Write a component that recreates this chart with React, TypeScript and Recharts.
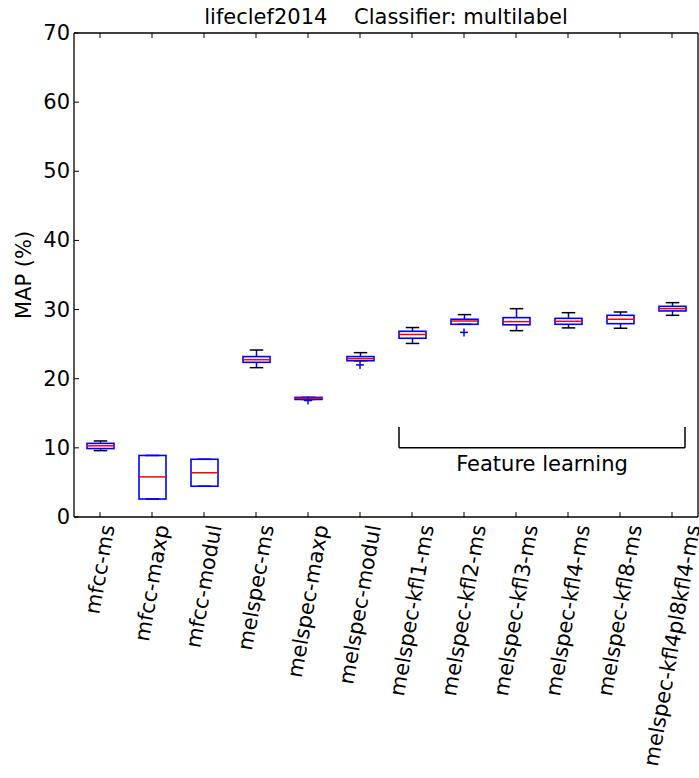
import React from 'react'
import {
  ComposedChart,
  Bar,
  Scatter,
  XAxis,
  YAxis,
  ReferenceLine,
  ReferenceDot,
} from 'recharts'

const names = [
  'mfcc-ms',
  'mfcc-maxp',
  'mfcc-modul',
  'melspec-ms',
  'melspec-maxp',
  'melspec-modul',
  'melspec-kfl1-ms',
  'melspec-kfl2-ms',
  'melspec-kfl3-ms',
  'melspec-kfl4-ms',
  'melspec-kfl8-ms',
  'melspec-kfl4pl8kfl4-ms',
]
const whiskerLow = [9.6, 2.6, 4.45, 21.6, 17.0, 22.6, 25.1, 27.87, 26.95, 27.35, 27.3, 29.17]
const q1 = [9.9, 2.6, 4.45, 22.37, 17.0, 22.6, 25.85, 27.87, 27.8, 27.87, 27.96, 29.8]
const median = [10.3, 5.8, 6.4, 22.75, 17.17, 22.9, 26.4, 28.35, 28.25, 28.3, 28.6, 30.13]
const q3 = [10.65, 8.9, 8.35, 23.2, 17.3, 23.2, 26.86, 28.6, 28.83, 28.73, 29.17, 30.47]
const whiskerHigh = [11.0, 8.9, 8.35, 24.15, 17.3, 23.77, 27.4, 29.27, 30.13, 29.55, 29.65, 31.0]
const outliers: (number | null)[] = [null, null, null, null, 16.85, 22.0, null, 26.7, null, null, null, null]
const yTicks = [0, 10, 20, 30, 40, 50, 60, 70]

const data = names.map((name, i) => ({
  name,
  pos: i + 1,
  range: [whiskerLow[i], whiskerHigh[i]],
  q1: q1[i],
  median: median[i],
  q3: q3[i],
  lo: whiskerLow[i],
  hi: whiskerHigh[i],
  outlier: outliers[i],
}))

const FONT = '"DejaVu Sans", sans-serif'
const FS = 21
const BLUE = '#0000ff'
const RED = '#ff0000'

let ctx: CanvasRenderingContext2D | null = null
function textWidth(s: string) {
  if (!ctx) {
    ctx = document.createElement('canvas').getContext('2d')
  }
  if (!ctx) return s.length * FS * 0.6
  ctx.font = `${FS}px "DejaVu Sans"`
  return ctx.measureText(s).width
}

function BoxShape(props: any) {
  const { x, y, width, height, payload } = props
  const { lo, hi, q1: b1, q3: b3, median: med } = payload
  const k = height / (hi - lo)
  const py = (v: number) => y + (hi - v) * k
  const cx = x + width / 2
  const cap = width / 2
  return (
    <g>
      <line x1={cx} x2={cx} y1={py(hi)} y2={py(b3)} stroke={BLUE} strokeWidth={1.5} />
      <line x1={cx} x2={cx} y1={py(b1)} y2={py(lo)} stroke={BLUE} strokeWidth={1.5} />
      <line x1={cx - cap / 2} x2={cx + cap / 2} y1={py(hi)} y2={py(hi)} stroke="#000" strokeWidth={1.5} />
      <line x1={cx - cap / 2} x2={cx + cap / 2} y1={py(lo)} y2={py(lo)} stroke="#000" strokeWidth={1.5} />
      <rect x={x} y={py(b3)} width={width} height={py(b1) - py(b3)} fill="none" stroke={BLUE} strokeWidth={1.6} />
      <line x1={x} x2={x + width} y1={py(med)} y2={py(med)} stroke={RED} strokeWidth={1.5} />
    </g>
  )
}

function PlusShape(props: any) {
  const { cx, cy, payload } = props
  if (payload == null || payload.outlier == null || !isFinite(cy)) return <g />
  return (
    <g>
      <line x1={cx - 4} x2={cx + 4} y1={cy} y2={cy} stroke={BLUE} strokeWidth={1.5} />
      <line x1={cx} x2={cx} y1={cy - 4} y2={cy + 4} stroke={BLUE} strokeWidth={1.5} />
    </g>
  )
}

function BottomTick(props: any) {
  const { x, y, payload } = props
  const label = String(payload.value)
  const L = textWidth(label)
  const a = (80 * Math.PI) / 180
  const h = FS * 1.16
  const cy = y + 6 + (L / 2) * Math.sin(a) + (h / 2) * Math.cos(a)
  return (
    <g>
      <line x1={x} x2={x} y1={y} y2={y - 5} stroke="#000" strokeWidth={1} />
      <text
        x={0}
        y={0}
        transform={`translate(${x},${cy}) rotate(-80)`}
        textAnchor="middle"
        dominantBaseline="central"
        fontFamily={FONT}
        fontSize={FS}
        fill="#000"
      >
        {label}
      </text>
    </g>
  )
}

function TopTick(props: any) {
  const { x, y } = props
  return <line x1={x} x2={x} y1={y} y2={y + 5} stroke="#000" strokeWidth={1} />
}

function LeftTick(props: any) {
  const { x, y, payload } = props
  return (
    <g>
      <line x1={x} x2={x + 5} y1={y} y2={y} stroke="#000" strokeWidth={1} />
      <text x={x - 4} y={y} textAnchor="end" dominantBaseline="central" fontFamily={FONT} fontSize={FS} fill="#000">
        {payload.value}
      </text>
    </g>
  )
}

function RightTick(props: any) {
  const { x, y } = props
  return <line x1={x} x2={x - 5} y1={y} y2={y} stroke="#000" strokeWidth={1} />
}

function FeatureLabel(props: any) {
  const { cx, cy } = props
  return (
    <text x={cx} y={cy} textAnchor="middle" dominantBaseline="central" fontFamily={FONT} fontSize={FS} fill="#000">
      Feature learning
    </text>
  )
}

export default function App() {
  const axisLine = { stroke: '#000', strokeWidth: 1.3 }
  return (
    <div style={{ position: 'absolute', left: 0, top: 0, width: 699, height: 778, background: '#fff' }}>
      <ComposedChart width={699} height={778} data={data} margin={{ top: 32, right: 0, left: 0, bottom: 0 }}>
        <XAxis
          dataKey="name"
          interval={0}
          height={261}
          axisLine={axisLine}
          tickLine={false}
          tickSize={0}
          tickMargin={0}
          tick={(p: any) => <BottomTick {...p} />}
        />
        <XAxis
          xAxisId="top"
          dataKey="name"
          orientation="top"
          interval={0}
          height={1}
          axisLine={axisLine}
          tickLine={false}
          tickSize={0}
          tickMargin={0}
          tick={(p: any) => <TopTick {...p} />}
        />
        <XAxis xAxisId="n" dataKey="pos" type="number" domain={[0.5, 12.5]} hide allowDataOverflow />
        <YAxis
          domain={[0, 70]}
          ticks={yTicks}
          interval={0}
          width={74}
          axisLine={axisLine}
          tickLine={false}
          tickSize={0}
          tickMargin={0}
          tick={(p: any) => <LeftTick {...p} />}
        />
        <YAxis
          yAxisId="r"
          orientation="right"
          domain={[0, 70]}
          ticks={yTicks}
          interval={0}
          width={1}
          axisLine={axisLine}
          tickLine={false}
          tickSize={0}
          tickMargin={0}
          tick={(p: any) => <RightTick {...p} />}
        />
        <Bar dataKey="range" barSize={27} shape={(p: any) => <BoxShape {...p} />} isAnimationActive={false} />
        <Scatter dataKey="outlier" shape={(p: any) => <PlusShape {...p} />} isAnimationActive={false} />
        <ReferenceLine
          xAxisId="n"
          segment={[{ x: 6.75, y: 10 }, { x: 12.25, y: 10 }]}
          stroke="#000"
          strokeWidth={1.5}
          ifOverflow="visible"
        />
        <ReferenceLine
          xAxisId="n"
          segment={[{ x: 6.75, y: 10 }, { x: 6.75, y: 13 }]}
          stroke="#000"
          strokeWidth={1.5}
          ifOverflow="visible"
        />
        <ReferenceLine
          xAxisId="n"
          segment={[{ x: 12.25, y: 10 }, { x: 12.25, y: 13 }]}
          stroke="#000"
          strokeWidth={1.5}
          ifOverflow="visible"
        />
        <ReferenceDot xAxisId="n" x={9.5} y={7.66} r={0} ifOverflow="visible" shape={(p: any) => <FeatureLabel {...p} />} />
      </ComposedChart>
      <svg width={699} height={778} style={{ position: 'absolute', left: 0, top: 0, pointerEvents: 'none' }}>
        <text x={386} y={17} textAnchor="middle" dominantBaseline="central" fontFamily={FONT} fontSize={FS} fill="#000" style={{ whiteSpace: 'pre' }}>
          {'lifeclef2014    Classifier: multilabel'}
        </text>
        <text
          x={0}
          y={0}
          transform="translate(24,275) rotate(-90)"
          textAnchor="middle"
          dominantBaseline="central"
          fontFamily={FONT}
          fontSize={FS}
          fill="#000"
        >
          MAP (%)
        </text>
      </svg>
    </div>
  )
}
